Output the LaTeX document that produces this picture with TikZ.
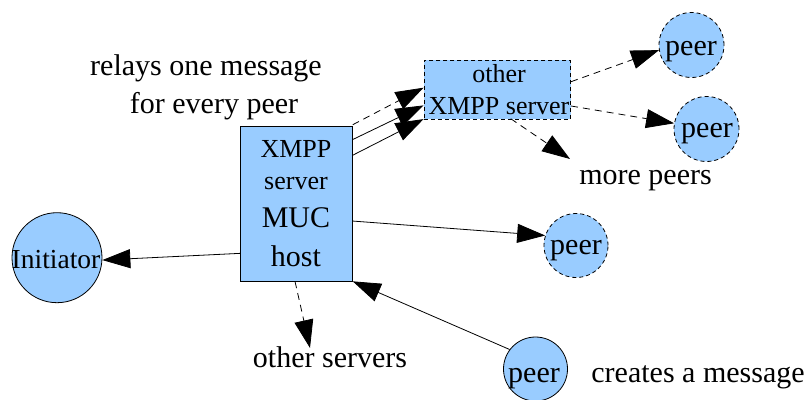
\documentclass[tikz,border=0pt]{standalone}
\usepackage{fontspec}
\newfontfamily\labelfont{Liberation Serif}
\usetikzlibrary{arrows.meta,calc}
\definecolor{nodeblue}{HTML}{99CCFF}
\tikzset{
  box/.style={draw=black, fill=nodeblue, line width=0.8pt, inner sep=0pt},
  dashbox/.style={box, dash pattern=on 4pt off 3pt},
  disc/.style={draw=black, fill=nodeblue, circle, line width=0.8pt, inner sep=0pt},
  dashdisc/.style={disc, dash pattern=on 4pt off 3pt},
  txt/.style={anchor=base, inner sep=0pt, font=\labelfont\fontsize{30}{36}\selectfont},
  smalltxt/.style={txt, font=\labelfont\fontsize{26}{31}\selectfont},
  conn/.style={line width=0.8pt, -{Triangle[length=28pt,width=19pt]}},
  dconn/.style={conn, dash pattern=on 7pt off 5pt},
}
\begin{document}
\begin{tikzpicture}[x=1pt,y=1pt]
\useasboundingbox (0,0) rectangle (811,399);

% MUC host
\node[box, minimum width=111.6pt, minimum height=154.3pt] (muc) at (296.5,195.2) {};
\node[smalltxt] (mucA) at (296,241) {XMPP};
\node[smalltxt] (mucB) at (296,209) {server};
\node[txt] (mucC) at (296,171) {MUC};
\node[txt] (mucD) at (296,132) {host};

% remote server
\node[dashbox, minimum width=146.7pt, minimum height=59pt] (osrv) at (497.3,309.5) {};
\node[smalltxt] (osrvA) at (499,316) {other};
\node[smalltxt] (osrvB) at (499,284) {XMPP server};

% participants
\node[disc, minimum size=90pt] (init) at (57,141.3) {};
\node[txt, font=\labelfont\fontsize{27.5}{33}\selectfont] (initT) at (56,130) {Initiator};

\node[dashdisc, minimum size=65pt] (p1) at (691.5,354) {};
\node[txt] (p1T) at (691,343) {peer};
\node[dashdisc, minimum size=65pt] (p2) at (706.5,270) {};
\node[txt] (p2T) at (707,261) {peer};
\node[dashdisc, minimum size=64pt] (p3) at (576,153.5) {};
\node[txt] (p3T) at (576,144) {peer};
\node[disc, minimum size=64pt] (p4) at (535.5,30) {};
\node[txt] (p4T) at (534,17) {peer};

% captions
\node[txt] (relA) at (206,323.3) {relays one message};
\node[txt] (relB) at (214,285) {for every peer};
\node[txt] (more) at (645.5,214) {more peers};
\node[txt] (osv) at (330,31) {other servers};
\node[txt] (crt) at (698,17) {creates a message};

\coordinate (moreTip) at (570,240);
\coordinate (osvTip) at (310,51);

% connectors
\draw[conn] ($(muc.south west)+(0,28)$) -- (init.-3);
\draw[conn] ($(muc.south east)+(0,60.3)$) -- (p3.162);
\draw[conn] (p4.143) -- (muc.south east);
\draw[dconn] ($(muc.south)+(-1.5,0)$) -- (osvTip);

\draw[dconn] ($(muc.north east)+(0,1.5)$) -- ($(osrv.west)+(0,1.8)$);
\draw[conn] ($(muc.north east)+(0,-13.3)$) -- ($(osrv.south west)+(0,14)$);
\draw[conn] ($(muc.north east)+(0,-29)$) -- ($(osrv.south west)+(0,0.3)$);

\draw[dconn] ($(osrv.east)+(0,7.8)$) -- (p1.189);
\draw[dconn] ($(osrv.east)+(0,-16.5)$) -- (p2.170);
\draw[dconn] ($(osrv.south)+(13.4,0.7)$) -- (moreTip);
\end{tikzpicture}
\end{document}
